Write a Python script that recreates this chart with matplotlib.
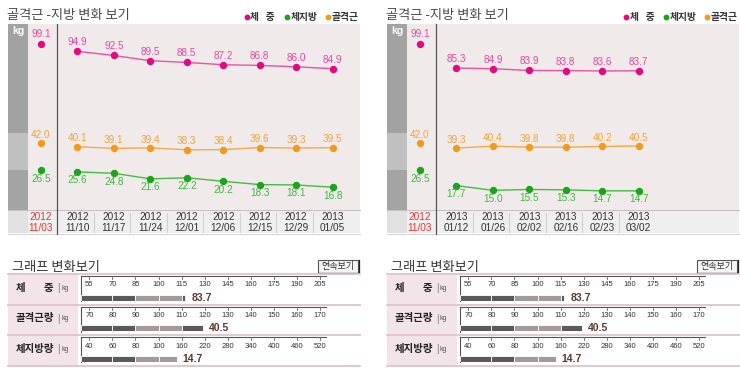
import numpy as np
import matplotlib
matplotlib.use('Agg')
import matplotlib.pyplot as plt
from matplotlib.patches import Rectangle

plt.rcParams['font.family'] = ['Noto Sans CJK KR', 'DejaVu Sans']
NUM = ['Liberation Sans', 'DejaVu Sans']

W, H = 740, 380

# first measurement (shown in every panel, red date)
base_year, base_day = '2012', '11/03'
base_weight, base_muscle, base_fat = 99.1, 42.0, 26.5

# left panel
years_a = ['2012', '2012', '2012', '2012', '2012', '2012', '2012', '2013']
days_a = ['11/10', '11/17', '11/24', '12/01', '12/06', '12/15', '12/29', '01/05']
weight_a = [94.9, 92.5, 89.5, 88.5, 87.2, 86.8, 86.0, 84.9]
muscle_a = [40.1, 39.1, 39.4, 38.3, 38.4, 39.6, 39.3, 39.5]
fat_a = [25.6, 24.8, 21.6, 22.2, 20.2, 18.3, 18.1, 16.8]

# right panel
years_b = ['2013', '2013', '2013', '2013', '2013', '2013']
days_b = ['01/12', '01/26', '02/02', '02/16', '02/23', '03/02']
weight_b = [85.3, 84.9, 83.9, 83.8, 83.6, 83.7]
muscle_b = [39.3, 40.4, 39.8, 39.8, 40.2, 40.5]
fat_b = [17.7, 15.0, 15.5, 15.3, 14.7, 14.7]

# bottom bar table
row_names = ['체 중', '골격근량', '체지방량']
row_ticks = [
    [55, 70, 85, 100, 115, 130, 145, 160, 175, 190, 205],
    [70, 80, 90, 100, 110, 120, 130, 140, 150, 160, 170],
    [40, 60, 80, 100, 160, 220, 280, 340, 400, 460, 520],
]
row_pct = [117.5, 119.5, 148]
row_values = [83.7, 40.5, 14.7]

C_W, C_M, C_F = '#e5087f', '#f39a1b', '#1aa51a'
L_W, L_M, L_F = '#ee4fa2', '#f5aa45', '#44bb44'
T_W, T_M, T_F = '#ee46a0', '#f0a43c', '#3dba3d'


def px_box(x0, y0, x1, y1):
    return [x0 / W, 1 - y1 / H, (x1 - x0) / W, (y1 - y0) / H]


def draw_chart(fig, bg, dx, years, days, weight, muscle, fat):
    step = 36.45
    x_base = 41
    ax = fig.add_axes(px_box(8 + dx, 24, 360 + dx, 210))
    ax.set_xlim((8 - x_base) / step, (360 - x_base) / step)
    ax.set_ylim(3.7, 110.6)
    ax.set_facecolor('#f0eaeb')
    for s in ax.spines.values():
        s.set_visible(False)
    ax.set_xticks([])
    ax.set_yticks([])

    # left kg strip
    x0, x1 = (8 - x_base) / step, (28 - x_base) / step
    for lo, hi, c in [(3.7, 26.7, '#a4a4a4'), (26.7, 47.9, '#c0c0c0'), (47.9, 110.6, '#a2a2a2')]:
        ax.add_patch(Rectangle((x0, lo), x1 - x0, hi - lo, color=c, lw=0))
    ax.text((x0 + x1) / 2, 0.965, 'kg', transform=ax.get_xaxis_transform(),
            color='white', fontsize=7.5, fontweight='bold', ha='center', va='center', family=NUM)

    # date row
    bg.add_patch(Rectangle((8 + dx, 210), 352, 23, color='#efefef', lw=0))
    bg.add_patch(Rectangle((8 + dx, 210), 20, 23, color='#e1e1e1', lw=0))
    bg.plot([8 + dx, 360 + dx], [210, 210], color='#c4c4c4', lw=0.8)
    bg.plot([8 + dx, 360 + dx], [233.5, 233.5], color='#d6d6d6', lw=0.8)

    ax.axvline(0.43, ymin=-23.5 / 186, ymax=1, color='#555555', lw=0.9, clip_on=False)
    tr = ax.get_xaxis_transform()
    n = len(weight)
    xs = np.arange(1, n + 1)
    for i in range(1, n):
        ax.plot([i + 0.45, i + 0.45], [-3 / 186, -22 / 186], transform=tr,
                color='#d0d0d0', lw=0.8, clip_on=False)
    y1, y2 = 1 - (216.5 - 24) / 186, 1 - (228 - 24) / 186
    ax.text(0, y1, base_year, transform=tr, ha='center', va='center', fontsize=7.2, color='#ee3333', family=NUM)
    ax.text(0, y2, base_day, transform=tr, ha='center', va='center', fontsize=7.2, color='#ee3333', family=NUM)
    for x, yr, d in zip(xs, years, days):
        ax.text(x, y1, yr, transform=tr, ha='center', va='center', fontsize=7.2, color='#333333', family=NUM)
        ax.text(x, y2, d, transform=tr, ha='center', va='center', fontsize=7.2, color='#333333', family=NUM)

    # series
    for base, vals, cm, cl, ct, off in [(base_weight, weight, C_W, L_W, T_W, 6.5),
                                        (base_muscle, muscle, C_M, L_M, T_M, 6.0),
                                        (base_fat, fat, C_F, L_F, T_F, -6.0)]:
        ax.plot(xs, vals, color=cl, lw=1.0, zorder=2)
        ax.plot(xs, vals, 'o', color=cm, ms=4.3, zorder=3)
        ax.plot([0], [base], 'o', color=cm, ms=4.3, zorder=3)
        for x, v in zip([0] + list(xs), [base] + list(vals)):
            o = off + 1 if (x == 0 and off > 6.2) else off
            ax.annotate(f'{v:.1f}', (x, v), xytext=(0, o), textcoords='offset points',
                        ha='center', va='center', fontsize=7.2, color=ct, family=NUM)

    # title and legend
    bg.text(7 + dx, 16, '골격근 -지방 변화 보기', fontsize=9.5, color='#4a4a4a', va='center')
    for px, c, label in [(247, C_W, '체   중'), (287, C_F, '체지방'), (328, C_M, '골격근')]:
        bg.plot([px + dx], [17], 'o', color=c, ms=3.2)
        bg.text(px + dx + 3.5, 17, label, fontsize=7, fontweight='bold', color='#333333', va='center')


def draw_table(fig, bg, dx):
    bg.text(12 + dx, 267, '그래프 변화보기', fontsize=9.5, color='#333333', va='center')
    bg.add_patch(Rectangle((318 + dx, 259.5), 40, 13, facecolor='#f5f5f5', edgecolor='#555555', lw=0.8))
    bg.plot([319 + dx, 358.5 + dx, 358.5 + dx], [273, 273, 260], color='#222222', lw=0.9)
    bg.text(338 + dx, 266, '연속보기', fontsize=6.5, color='#333333', ha='center', va='center')

    bg.add_patch(Rectangle((8 + dx, 274), 70, 91.5, color='#f3e4e9', lw=0))
    step = 23.07
    t0 = 89.3
    for r in range(3):
        top = 274 + 30.5 * r
        bg.plot([8 + dx, 360 + dx], [top, top], color='#dfc3cd', lw=1.3)
        name = row_names[r]
        if ' ' in name:
            parts = name.split()
            bg.text(16 + dx, top + 14, parts[0], fontsize=7.5, fontweight='bold', color='#222222', va='center')
            bg.text(53 + dx, top + 14, parts[-1], fontsize=7.5, fontweight='bold', color='#222222',
                    va='center', ha='right')
        else:
            bg.text(16 + dx, top + 14, name, fontsize=7.5, fontweight='bold', color='#222222', va='center')
        bg.text(57 + dx, top + 14, '|', fontsize=7, color='#777777', va='center', family=NUM)
        bg.text(61 + dx, top + 14.5, 'kg', fontsize=5, color='#555555', va='center', family=NUM)

        # frame and scale
        bg.plot([81 + dx, 326 + dx], [top + 2, top + 2], color='#555555', lw=0.8)
        bg.plot([81 + dx, 81 + dx], [top + 2, top + 27], color='#555555', lw=0.8)
        for k, t in enumerate(row_ticks[r]):
            x = t0 + k * step + dx
            bg.plot([x, x], [top + 2, top + 5], color='#666666', lw=0.6)
            bg.text(x, top + 11, str(t), fontsize=5.5, color='#333333', ha='center', va='center', family=NUM)

        # bar
        bax = fig.add_axes(px_box(81 + dx, top + 20.5, 326 + dx, top + 26.5))
        lo, hi = (81 - t0) / step, (326 - t0) / step
        bax.set_xlim(lo, hi)
        bax.set_ylim(0, 1)
        bax.axis('off')
        vidx = np.interp(row_pct[r], row_ticks[r], np.arange(len(row_ticks[r])))
        edges = [lo] + [e for e in range(1, 11) if e < vidx] + [vidx]
        for a, b in zip(edges[:-1], edges[1:]):
            c = '#a39b9b' if 2 <= a < 4 else '#5a5a5a'
            bax.barh(0.5, b - a, left=a, height=1, color=c, edgecolor='white', lw=0.6)
        bax.text(vidx + 0.25, 0.45, f'{row_values[r]:.1f}', fontsize=7.5, fontweight='bold',
                 color='#5a3a2a', va='center', family=NUM)
    bg.plot([8 + dx, 360 + dx], [365.5, 365.5], color='#dfc3cd', lw=1.3)


def main():
    fig = plt.figure(figsize=(W / 100, H / 100), dpi=100)
    bg = fig.add_axes([0, 0, 1, 1])
    bg.set_xlim(0, W)
    bg.set_ylim(H, 0)
    bg.axis('off')

    draw_chart(fig, bg, 0, years_a, days_a, weight_a, muscle_a, fat_a)
    draw_chart(fig, bg, 379, years_b, days_b, weight_b, muscle_b, fat_b)
    draw_table(fig, bg, 0)
    draw_table(fig, bg, 379)

    fig.savefig('out.png', dpi=100)


if __name__ == '__main__':
    main()
